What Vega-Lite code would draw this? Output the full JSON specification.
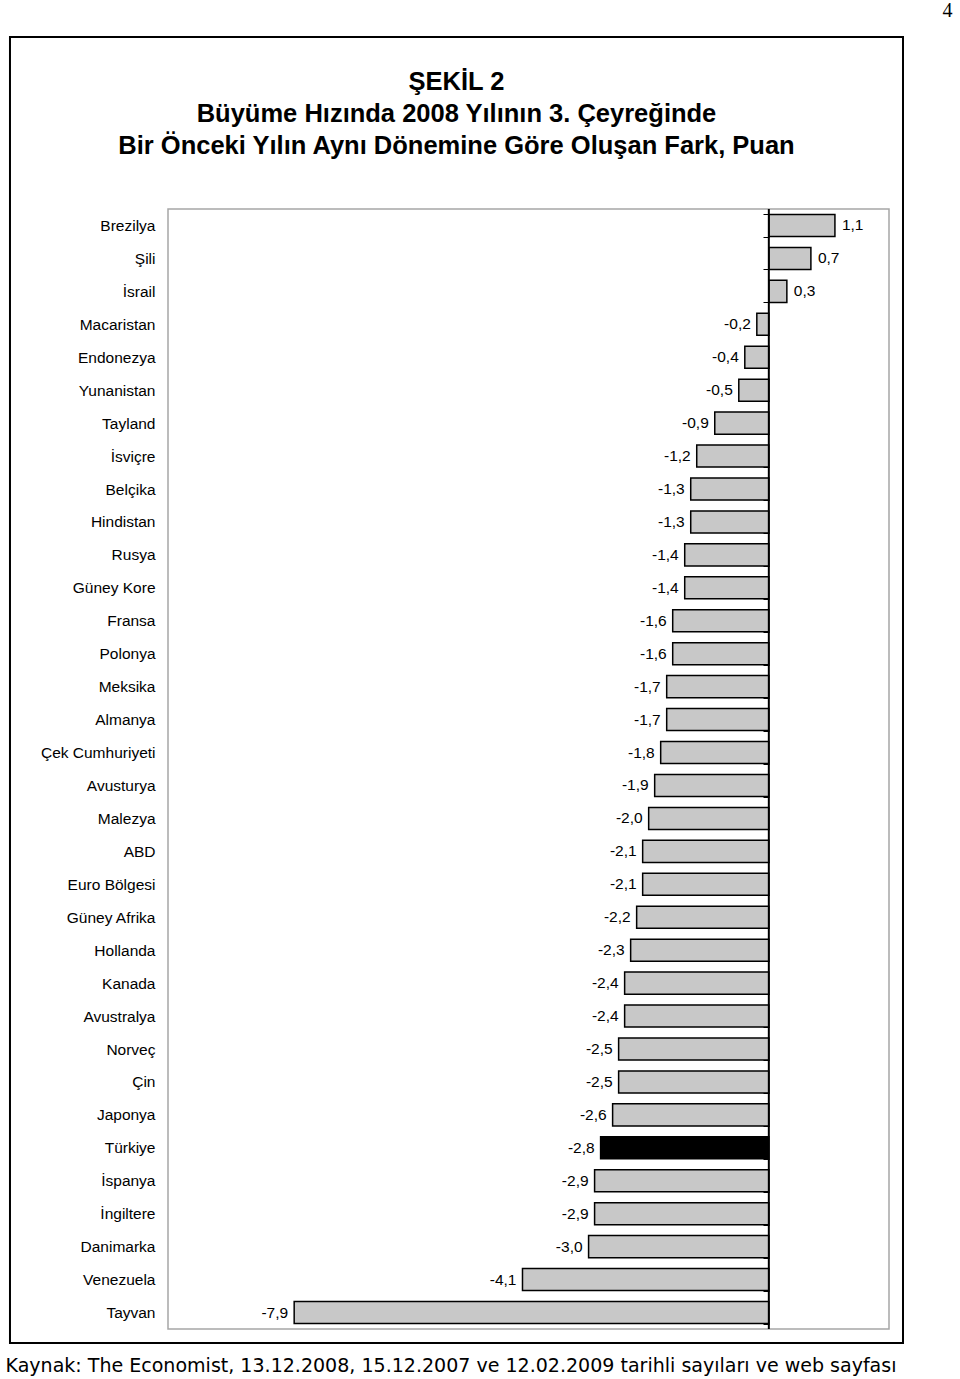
{
  "$schema": "https://vega.github.io/schema/vega-lite/v6.json",
  "width": 721,
  "height": 1120,
  "autosize": {"type": "none"},
  "padding": {"left": 168, "top": 209, "right": 71, "bottom": 50},
  "background": "white",
  "config": {
    "locale": {"number": {"decimal": ",", "thousands": ".", "grouping": [3], "currency": ["", ""], "minus": "-"}},
    "view": {"stroke": "#a6a6a6", "strokeWidth": 1.5},
    "font": "Liberation Sans"
  },
  "title": {
    "text": ["ŞEKİL 2", "Büyüme Hızında 2008 Yılının 3. Çeyreğinde", "Bir Önceki Yılın Aynı Dönemine Göre Oluşan Fark, Puan"],
    "font": "Liberation Sans",
    "fontWeight": "bold",
    "fontSize": 25.5,
    "lineHeight": 32,
    "color": "black",
    "anchor": "middle",
    "frame": "group",
    "dx": -72,
    "offset": -159
  },
  "data": {
    "values": [
      {"country": "Brezilya", "value": 1.1},
      {"country": "Şili", "value": 0.7},
      {"country": "İsrail", "value": 0.3},
      {"country": "Macaristan", "value": -0.2},
      {"country": "Endonezya", "value": -0.4},
      {"country": "Yunanistan", "value": -0.5},
      {"country": "Tayland", "value": -0.9},
      {"country": "İsviçre", "value": -1.2},
      {"country": "Belçika", "value": -1.3},
      {"country": "Hindistan", "value": -1.3},
      {"country": "Rusya", "value": -1.4},
      {"country": "Güney Kore", "value": -1.4},
      {"country": "Fransa", "value": -1.6},
      {"country": "Polonya", "value": -1.6},
      {"country": "Meksika", "value": -1.7},
      {"country": "Almanya", "value": -1.7},
      {"country": "Çek Cumhuriyeti", "value": -1.8},
      {"country": "Avusturya", "value": -1.9},
      {"country": "Malezya", "value": -2.0},
      {"country": "ABD", "value": -2.1},
      {"country": "Euro Bölgesi", "value": -2.1},
      {"country": "Güney Afrika", "value": -2.2},
      {"country": "Hollanda", "value": -2.3},
      {"country": "Kanada", "value": -2.4},
      {"country": "Avustralya", "value": -2.4},
      {"country": "Norveç", "value": -2.5},
      {"country": "Çin", "value": -2.5},
      {"country": "Japonya", "value": -2.6},
      {"country": "Türkiye", "value": -2.8},
      {"country": "İspanya", "value": -2.9},
      {"country": "İngiltere", "value": -2.9},
      {"country": "Danimarka", "value": -3.0},
      {"country": "Venezuela", "value": -4.1},
      {"country": "Tayvan", "value": -7.9}
    ]
  },
  "resolve": {"scale": {"y": "independent"}, "axis": {"y": "independent"}},
  "layer": [
    {
      "data": {"values": [{}]},
      "mark": {"type": "rect", "filled": false, "stroke": "black", "strokeWidth": 2, "clip": false},
      "encoding": {
        "x": {"datum": -12.63, "type": "quantitative", "scale": {"domain": [-10, 2], "nice": false, "zero": false}},
        "x2": {"datum": 2.233},
        "y": {"datum": 1.1536, "type": "quantitative", "scale": {"domain": [0, 1], "nice": false, "zero": false}, "axis": null},
        "y2": {"datum": -0.0125}
      }
    },
    {
      "mark": {"type": "bar", "stroke": "black", "strokeWidth": 1.5},
      "encoding": {
        "y": {
          "field": "country", "type": "nominal", "sort": null,
          "scale": {"paddingInner": 0.33, "paddingOuter": 0.165},
          "axis": {"orient": "left", "offset": -601, "labels": false, "ticks": true, "tickBand": "extent", "tickSize": 6, "tickColor": "black", "tickWidth": 1, "domain": false, "grid": false, "title": null}
        },
        "x": {
          "field": "value", "type": "quantitative",
          "scale": {"domain": [-10, 2], "nice": false, "zero": false},
          "axis": {"labels": false, "ticks": false, "domain": false, "grid": false,
            "title": "Kaynak: The Economist, 13.12.2008, 15.12.2007 ve 12.02.2009 tarihli sayıları ve web sayfası",
            "titleFont": "DejaVu Sans", "titleFontSize": 19.05, "titleFontWeight": "normal", "titleColor": "black",
            "titleX": -163, "titleY": 36, "titleAlign": "left", "titleBaseline": "middle", "titleAnchor": null}
        },
        "fill": {
          "condition": {"test": "datum.country === 'Türkiye'", "value": "black"},
          "value": "#c8c8c8"
        }
      }
    },
    {
      "data": {"values": [{}]},
      "mark": {"type": "rule", "color": "black", "strokeWidth": 2},
      "encoding": {
        "x": {"datum": 0, "type": "quantitative", "scale": {"domain": [-10, 2], "nice": false, "zero": false}}
      }
    },
    {
      "transform": [{"filter": "datum.value < 0"}],
      "mark": {"type": "text", "align": "right", "baseline": "middle", "dx": -6, "fontSize": 15.5, "color": "black"},
      "encoding": {
        "y": {
          "field": "country", "type": "nominal", "sort": null,
          "scale": {"domain": ["Brezilya","Şili","İsrail","Macaristan","Endonezya","Yunanistan","Tayland","İsviçre","Belçika","Hindistan","Rusya","Güney Kore","Fransa","Polonya","Meksika","Almanya","Çek Cumhuriyeti","Avusturya","Malezya","ABD","Euro Bölgesi","Güney Afrika","Hollanda","Kanada","Avustralya","Norveç","Çin","Japonya","Türkiye","İspanya","İngiltere","Danimarka","Venezuela","Tayvan"], "paddingInner": 0.33, "paddingOuter": 0.165},
          "axis": {"orient": "left", "labels": true, "ticks": false, "domain": false, "grid": false, "labelPadding": 13, "labelFontSize": 15.5, "labelColor": "black", "labelFont": "Liberation Sans", "title": null}
        },
        "x": {"field": "value", "type": "quantitative", "scale": {"domain": [-10, 2], "nice": false, "zero": false}},
        "text": {"field": "value", "type": "quantitative", "format": ".1f"}
      }
    },
    {
      "transform": [{"filter": "datum.value >= 0"}],
      "mark": {"type": "text", "align": "left", "baseline": "middle", "dx": 7, "fontSize": 15.5, "color": "black"},
      "encoding": {
        "y": {
          "field": "country", "type": "nominal", "sort": null,
          "scale": {"domain": ["Brezilya","Şili","İsrail","Macaristan","Endonezya","Yunanistan","Tayland","İsviçre","Belçika","Hindistan","Rusya","Güney Kore","Fransa","Polonya","Meksika","Almanya","Çek Cumhuriyeti","Avusturya","Malezya","ABD","Euro Bölgesi","Güney Afrika","Hollanda","Kanada","Avustralya","Norveç","Çin","Japonya","Türkiye","İspanya","İngiltere","Danimarka","Venezuela","Tayvan"], "paddingInner": 0.33, "paddingOuter": 0.165},
          "axis": null
        },
        "x": {"field": "value", "type": "quantitative", "scale": {"domain": [-10, 2], "nice": false, "zero": false}},
        "text": {"field": "value", "type": "quantitative", "format": ".1f"}
      }
    },
    {
      "data": {"values": [{}]},
      "mark": {"type": "text", "text": "4", "font": "Liberation Serif", "fontSize": 20, "align": "center", "baseline": "middle", "color": "black", "clip": false},
      "encoding": {
        "x": {"datum": 2.975, "type": "quantitative", "scale": {"domain": [-10, 2], "nice": false, "zero": false}},
        "y": {"datum": 1.1768, "type": "quantitative", "scale": {"domain": [0, 1], "nice": false, "zero": false}, "axis": null}
      }
    }
  ]
}
